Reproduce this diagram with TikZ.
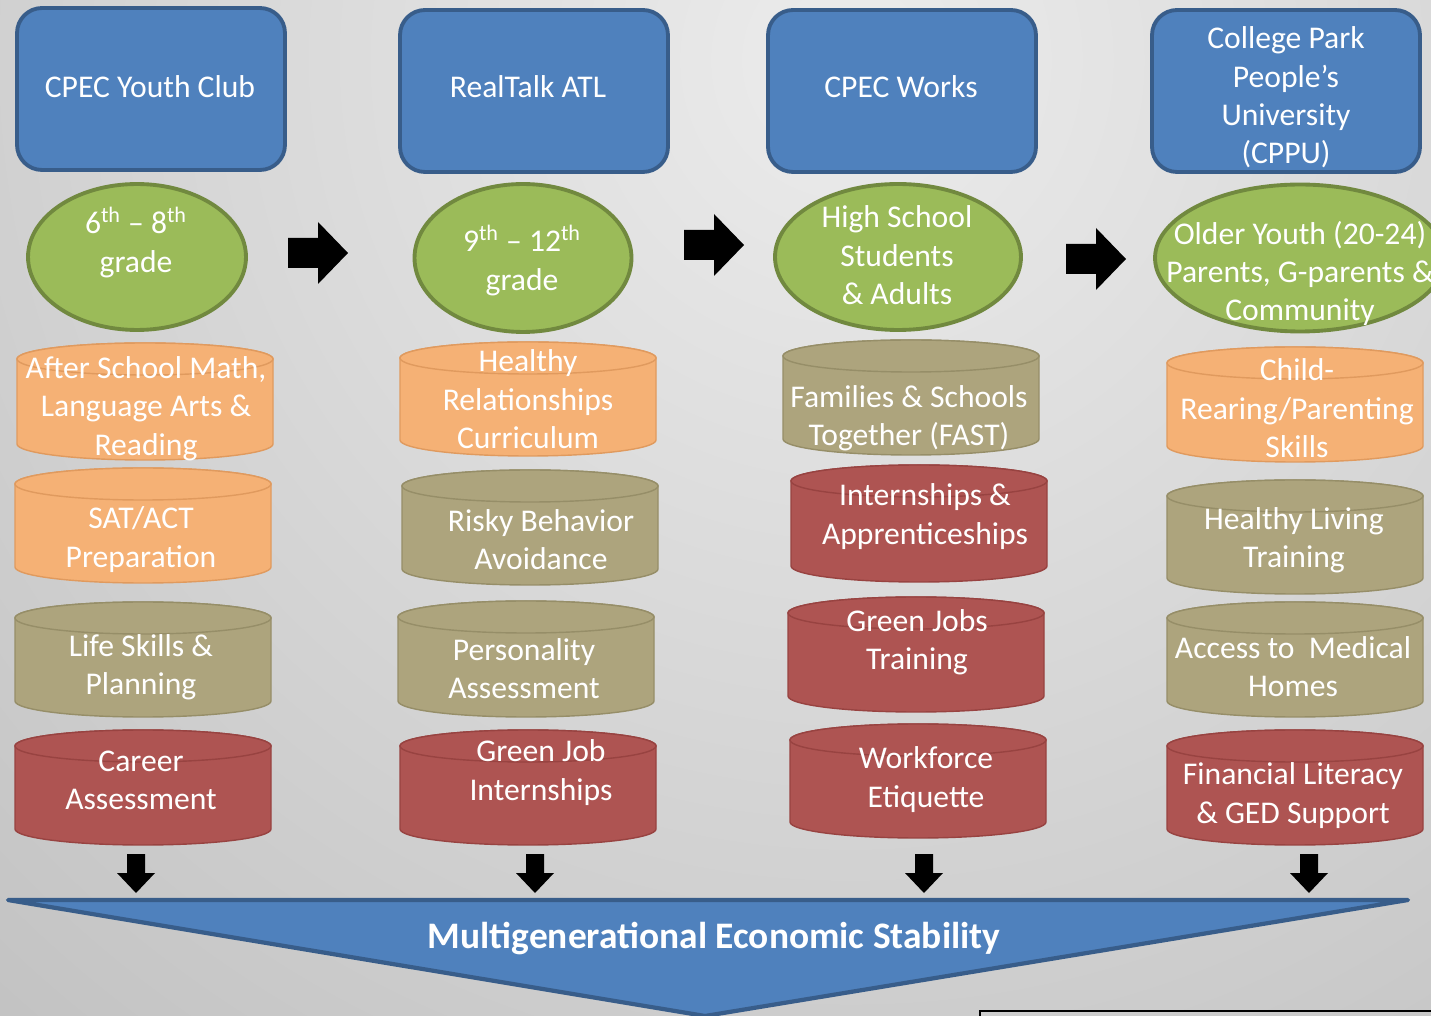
\documentclass[tikz,border=0pt]{standalone}
\usepackage{fontspec}
\setmainfont{Carlito}
\usepackage{tikz}
\usetikzlibrary{shapes.geometric}

\definecolor{bgin}{HTML}{ECECEC}
\definecolor{bgout}{HTML}{989898}
\definecolor{progfill}{HTML}{4F81BD}
\definecolor{progline}{HTML}{385D8A}
\definecolor{grpfill}{HTML}{9BBB59}
\definecolor{grpline}{HTML}{71893F}
\definecolor{orfill}{HTML}{F5B175}
\definecolor{orline}{HTML}{E09A5E}
\definecolor{tanfill}{HTML}{ADA47D}
\definecolor{tanline}{HTML}{968E68}
\definecolor{redfill}{HTML}{AE5452}
\definecolor{redline}{HTML}{984341}

\pgfdeclareradialshading{bgshade}{\pgfpoint{0bp}{0bp}}{color(0bp)=(bgin); color(50bp)=(bgout)}

\tikzset{
txt/.style={text=white, align=center, inner sep=0pt, font=\fontsize{18}{21.9}\selectfont},
lbl/.style={txt, yshift=-0.05cm},
prog/.style={draw=progline, fill=progfill, line width=2.2pt, rounded corners=0.5cm,
  minimum width=5.36cm, minimum height=3.24cm},
grp/.style={ellipse, draw=grpline, fill=grpfill, line width=2.2pt, inner sep=0pt},
orange/.style={fill=orfill, draw=orline, line width=0.8pt},
tan/.style={fill=tanfill, draw=tanline, line width=0.8pt},
red/.style={fill=redfill, draw=redline, line width=0.8pt},
banner/.style={fill=progfill, draw=progline, line width=2.4pt, line join=round},
}

% cylinder: style, left x, top y, bottom y (pixels, y downwards)
\newcommand{\cyl}[4]{%
\draw[#1] (#2,-#3-16) -- (#2,-#4+16) arc[start angle=180, end angle=360, x radius=128, y radius=16]
  -- (#2+256,-#3-16) arc[start angle=0, end angle=180, x radius=128, y radius=16] -- cycle;
\draw[#1] (#2+128,-#3-16) ellipse[x radius=128, y radius=16];
}
% block arrows
\newcommand{\rightarr}[2]{%
\fill (#1,-#2+15) -- (#1+30,-#2+15) -- (#1+30,-#2+31) -- (#1+60,-#2) -- (#1+30,-#2-31)
  -- (#1+30,-#2-15) -- (#1,-#2-15) -- cycle;
}
\newcommand{\downarr}[1]{%
\fill (#1-9,-854) -- (#1+9,-854) -- (#1+9,-873) -- (#1+19,-873) -- (#1,-893) -- (#1-19,-873)
  -- (#1-9,-873) -- cycle;
}

\begin{document}
\begin{tikzpicture}[x=0.02cm, y=0.02cm]
\useasboundingbox (0,0) rectangle (1431,-1016);
\clip (0,0) rectangle (1431,-1016);
\fill[shading=bgshade] (850,-60) circle[radius=1300];

% programmes
\node[prog] (club) at (151,-89) {};
\node[txt] (clubt) at (150,-87) {CPEC Youth Club};
\node[prog] (realtalk) at (534,-91) {};
\node[txt] (realtalkt) at (528,-87) {RealTalk ATL};
\node[prog] (works) at (902,-91) {};
\node[txt] (workst) at (901,-87) {CPEC Works};
\node[prog] (cppu) at (1286,-91) {};
\node[lbl] (cpput) at (1286,-95) {College Park\\People’s\\University\\(CPPU)};

% target groups
\node[grp, minimum width=4.36cm, minimum height=2.92cm] (g68) at (137,-257) {};
\node[lbl] (g68t) at (136,-240) {6\textsuperscript{th} – 8\textsuperscript{th}\\grade};
\node[grp, minimum width=4.34cm, minimum height=2.96cm] (g912) at (523,-258) {};
\node[lbl] (g912t) at (522,-258) {9\textsuperscript{th} – 12\textsuperscript{th}\\grade};
\node[grp, minimum width=4.92cm, minimum height=2.92cm] (hs) at (898,-257) {};
\node[lbl] (hst) at (897,-253) {High School\\Students\\\& Adults};
\node[grp, minimum width=5.8cm, minimum height=2.94cm] (older) at (1300,-258) {};
\node[lbl] (oldert) at (1300,-271) {Older Youth (20-24)\\Parents, G-parents \&\\Community};

\rightarr{288}{253}
\rightarr{684}{245}
\rightarr{1066}{259}

% column 1
\cyl{orange}{17}{343}{460}
\node[lbl] (math) at (146,-406) {After School Math,\\Language Arts \&\\Reading};
\cyl{orange}{15}{468}{583}
\node[lbl] (sat) at (141,-537) {SAT/ACT\\Preparation};
\cyl{tan}{15}{602}{717}
\node[lbl] (life) at (141,-665) {Life Skills \&\\Planning};
\cyl{red}{15}{730}{845}
\node[lbl] (career) at (141,-778) {Career\\Assessment};

% column 2
\cyl{orange}{400}{342}{456}
\node[lbl] (healthy) at (528,-397) {Healthy\\Relationships\\Curriculum};
\cyl{tan}{402}{470}{585}
\node[lbl] (risky) at (541,-537) {Risky Behavior\\Avoidance};
\cyl{tan}{398}{601}{717}
\node[lbl] (person) at (524,-666) {Personality\\Assessment};
\cyl{red}{400}{730}{845}
\node[lbl] (greenint) at (541,-770) {Green Job\\Internships};

% column 3
\cyl{tan}{783}{340}{455}
\node[lbl] (fast) at (909,-416) {Families \& Schools\\Together (FAST)};
\cyl{red}{791}{465}{582}
\node[lbl] (intern) at (925,-514) {Internships \&\\Apprenticeships};
\cyl{red}{788}{597}{712}
\node[lbl] (greenjobs) at (917,-640) {Green Jobs\\Training};
\cyl{red}{790}{724}{838}
\node[lbl] (etiquette) at (926,-777) {Workforce\\Etiquette};

% column 4
\cyl{orange}{1167}{347}{462}
\node[lbl] (parenting) at (1297,-406) {Child-\\Rearing/Parenting\\Skills};
\cyl{tan}{1167}{480}{594}
\node[lbl] (living) at (1294,-538) {Healthy Living\\Training};
\cyl{tan}{1167}{602}{717}
\node[lbl] (medical) at (1293,-664) {Access to~~Medical\\Homes};
\cyl{red}{1167}{730}{845}
\node[lbl] (literacy) at (1293,-793) {Financial Literacy\\\& GED Support};

\downarr{136}
\downarr{535}
\downarr{924}
\downarr{1309}

% goal
\draw[banner] (8,-900) -- (1408,-900) -- (705,-1016) -- cycle;
\node[txt, font=\fontsize{21.3}{25}\selectfont\bfseries] (goal) at (714,-939) {Multigenerational Economic Stability};

\draw[line width=0.7pt] (980,-1011) rectangle (1460,-1040);
\end{tikzpicture}
\end{document}
